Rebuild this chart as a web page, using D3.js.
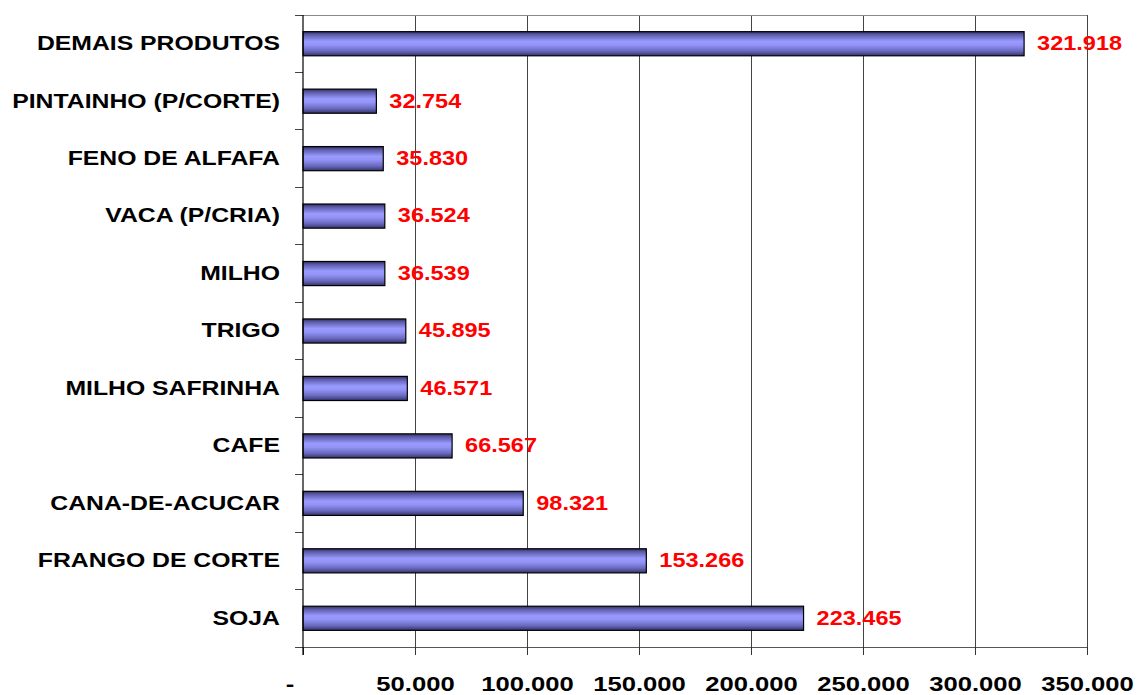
<!DOCTYPE html>
<html><head><meta charset="utf-8">
<script src="https://cdn.jsdelivr.net/npm/d3@7"></script>
<style>
html,body{margin:0;padding:0;background:#fff;}
svg{display:block;font-family:"Liberation Sans",Arial,sans-serif;}
</style></head>
<body><svg id="chart" width="1142" height="695"></svg>
<script>
const categories = ["DEMAIS PRODUTOS","PINTAINHO (P/CORTE)","FENO DE ALFAFA","VACA (P/CRIA)","MILHO","TRIGO","MILHO SAFRINHA","CAFE","CANA-DE-ACUCAR","FRANGO DE CORTE","SOJA"];
const values = [321918,32754,35830,36524,36539,45895,46571,66567,98321,153266,223465];
const xTicks = [0,50000,100000,150000,200000,250000,300000,350000];

const svg = d3.select("#chart");
const L = 303, R = 1087, T = 15, B = 647;
const loc = d3.formatLocale({decimal:",",thousands:".",grouping:[3],currency:["",""]});
const fmt = loc.format(",d");
const fmtTick = v => v === 0 ? "-" : fmt(v);

const x = d3.scaleLinear().domain([0,350000]).range([L,R]);
const y = d3.scaleBand().domain(categories).range([T,B]).paddingInner(0.58).paddingOuter(0.29);

// gradient
const defs = svg.append("defs");
const g = defs.append("linearGradient").attr("id","barGrad").attr("x1",0).attr("x2",0).attr("y1",0).attr("y2",1);
[[0,"#2e2e5c"],[0.12,"#5a5aa8"],[0.4,"#9a9aff"],[0.55,"#9494f8"],[0.8,"#6a6ac0"],[1,"#33336a"]].forEach(s=>g.append("stop").attr("offset",s[0]).attr("stop-color",s[1]));

// gridlines
svg.append("g").selectAll("line").data(xTicks.slice(1)).join("line")
  .attr("x1",d=>x(d)).attr("x2",d=>x(d)).attr("y1",T).attr("y2",B)
  .attr("stroke","#444").attr("stroke-width",1).attr("shape-rendering","crispEdges");
// top border
svg.append("line").attr("x1",L).attr("x2",R).attr("y1",T).attr("y2",T)
  .attr("stroke","#888").attr("shape-rendering","crispEdges");

// bars
svg.append("g").selectAll("rect").data(categories).join("rect")
  .attr("x",x(0)).attr("y",d=>y(d)).attr("width",(d,i)=>x(values[i])-x(0)).attr("height",y.bandwidth())
  .attr("fill","url(#barGrad)").attr("stroke","#000").attr("stroke-width",1.2);

// x axis
const xAxis = d3.axisBottom(x).tickValues(xTicks).tickFormat(fmtTick).tickSizeInner(8).tickSizeOuter(0).tickPadding(21);
const xa = svg.append("g").attr("transform",`translate(0,${B})`).call(xAxis);
xa.select(".domain").attr("stroke","#555");
xa.selectAll(".tick line").attr("stroke","#333");
xa.selectAll("text").attr("font-size",21).attr("font-weight","bold").attr("fill","#000")
  .attr("font-family","'Liberation Sans',Arial,sans-serif")
  .attr("transform","scale(1.22,1)")
  .attr("dx",d=>d===0?-11:0);

// y ticks at band boundaries
const bounds = d3.range(categories.length+1).map(i=>T + i*(B-T)/categories.length);
svg.append("g").selectAll("line").data(bounds).join("line")
  .attr("x1",L-8).attr("x2",L).attr("y1",d=>d).attr("y2",d=>d)
  .attr("stroke","#444").attr("shape-rendering","crispEdges");
// left axis line
svg.append("line").attr("x1",L).attr("x2",L).attr("y1",T).attr("y2",B+8)
  .attr("stroke","#000").attr("stroke-width",1.2);

// category labels
svg.append("g").selectAll("text").data(categories).join("text")
  .attr("transform",d=>`translate(280,${y(d)+y.bandwidth()/2 - 1}) scale(1.18,1)`)
  .attr("text-anchor","end").attr("dy","0.35em")
  .attr("font-size",21).attr("font-weight","bold").attr("fill","#000")
  .text(d=>d);

// value labels
svg.append("g").selectAll("text").data(categories).join("text")
  .attr("transform",(d,i)=>`translate(${x(values[i])+13},${y(d)+y.bandwidth()/2 - 1}) scale(1.12,1)`)
  .attr("dy","0.35em")
  .attr("font-size",21).attr("font-weight","bold").attr("fill","#ff0000")
  .text((d,i)=>fmt(values[i]));
</script></body></html>
